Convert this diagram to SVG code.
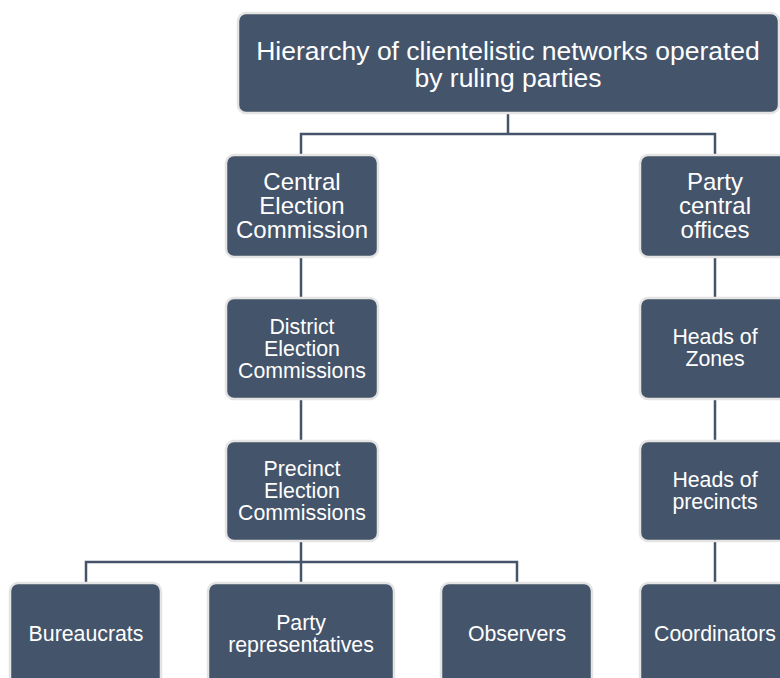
<svg xmlns="http://www.w3.org/2000/svg" width="780" height="678" viewBox="0 0 780 678">
<style>
.box{fill:#44546a;stroke:#e4e4e4;stroke-width:2.5}
.t{fill:#ffffff;font-family:"Liberation Sans",Arial,sans-serif;text-anchor:middle}
.conn{fill:none;stroke:#44546a;stroke-width:2.5}
</style>
<rect width="780" height="678" fill="#ffffff"/>
<g id="connectors">
<path class="conn" d="M508 113 V134 M301 155 V134 H715 V155"/>
<path class="conn" d="M301 257 V298 M301 399 V441 M301 541 V562 M86 583 V562 H517 V583 M301 562 V583"/>
<path class="conn" d="M715 257 V298 M715 399 V441 M715 541 V583"/>
</g>
<g id="n-top">
<rect class="box" x="238" y="13" width="541" height="100" rx="8"/>
<text class="t" font-size="26.5" x="508" y="59.5">Hierarchy of clientelistic networks operated</text>
<text class="t" font-size="26.5" x="508" y="86.5">by ruling parties</text>
</g>
<g id="n-cec">
<rect class="box" x="226" y="155" width="152" height="102" rx="8"/>
<text class="t" font-size="24" x="302" y="189.5">Central</text>
<text class="t" font-size="24" x="302" y="213.5">Election</text>
<text class="t" font-size="24" x="302" y="237.5">Commission</text>
</g>
<g id="n-dec">
<rect class="box" x="226" y="298" width="152" height="101" rx="8"/>
<text class="t" font-size="21.3" x="302" y="333.6">District</text>
<text class="t" font-size="21.3" x="302" y="355.6">Election</text>
<text class="t" font-size="21.3" x="302" y="377.6">Commissions</text>
</g>
<g id="n-pec">
<rect class="box" x="226" y="441" width="152" height="100" rx="8"/>
<text class="t" font-size="21.3" x="302" y="475.6">Precinct</text>
<text class="t" font-size="21.3" x="302" y="497.6">Election</text>
<text class="t" font-size="21.3" x="302" y="519.6">Commissions</text>
</g>
<g id="n-pco">
<rect class="box" x="640" y="155" width="152" height="102" rx="8"/>
<text class="t" font-size="24" x="715" y="189.5">Party</text>
<text class="t" font-size="24" x="715" y="213.5">central</text>
<text class="t" font-size="24" x="715" y="237.5">offices</text>
</g>
<g id="n-hz">
<rect class="box" x="640" y="298" width="152" height="101" rx="8"/>
<text class="t" font-size="21.3" x="715" y="343.6">Heads of</text>
<text class="t" font-size="21.3" x="715" y="365.6">Zones</text>
</g>
<g id="n-hp">
<rect class="box" x="640" y="441" width="152" height="100" rx="8"/>
<text class="t" font-size="21.3" x="715" y="486.6">Heads of</text>
<text class="t" font-size="21.3" x="715" y="508.6">precincts</text>
</g>
<g id="n-bur">
<rect class="box" x="10" y="583" width="151" height="102" rx="8"/>
<text class="t" font-size="21.3" x="86" y="640.6">Bureaucrats</text>
</g>
<g id="n-prep">
<rect class="box" x="208" y="583" width="186" height="102" rx="8"/>
<text class="t" font-size="21.3" x="301" y="629.6">Party</text>
<text class="t" font-size="21.3" x="301" y="651.6">representatives</text>
</g>
<g id="n-obs">
<rect class="box" x="441" y="583" width="151" height="102" rx="8"/>
<text class="t" font-size="21.3" x="517" y="640.6">Observers</text>
</g>
<g id="n-coord">
<rect class="box" x="640" y="583" width="152" height="102" rx="8"/>
<text class="t" font-size="21.3" x="715" y="640.6">Coordinators</text>
</g>
</svg>
